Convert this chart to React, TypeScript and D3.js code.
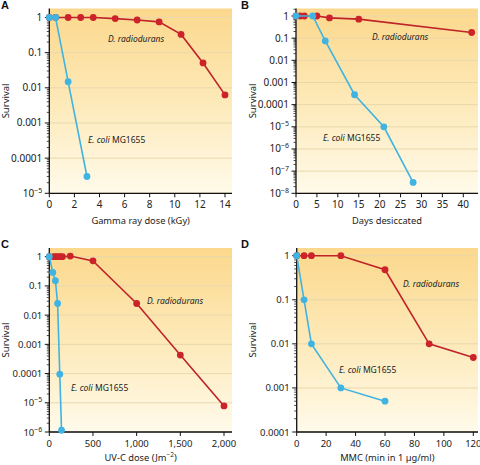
import React from "react";
import * as d3 from "d3";

// ---------- data ----------
const gammaDose_Drad = [0, 0.5, 1.5, 2.5, 3.5, 5.25, 7, 8.75, 10.5, 12.25, 14];
const gammaSurv_Drad = [1, 1, 1, 1, 1, 0.93, 0.85, 0.75, 0.33, 0.051, 0.0063];
const gammaDose_Ecoli = [0, 0.5, 1.5, 3];
const gammaSurv_Ecoli = [1, 1, 0.015, 3e-5];

const days_Drad = [0, 1, 2, 5, 8, 15, 42];
const daysSurv_Drad = [1, 1, 1, 1, 0.82, 0.72, 0.18];
const days_Ecoli = [0, 4, 7, 14, 21, 28];
const daysSurv_Ecoli = [1, 1, 0.075, 2.8e-4, 1e-5, 3.1e-8];

const uv_Drad = [0, 50, 75, 100, 125, 150, 240, 500, 1000, 1500, 2000];
const uvSurv_Drad = [1, 1, 1, 1, 1, 1, 1.05, 0.72, 0.025, 4.3e-4, 7.8e-6];
const uv_Ecoli = [0, 40, 70, 95, 120, 140];
const uvSurv_Ecoli = [1, 0.29, 0.15, 0.025, 9.5e-5, 1.15e-6];

const mmc_Drad = [0, 5, 10, 30, 60, 90, 120];
const mmcSurv_Drad = [1, 1, 1, 1, 0.48, 0.01, 0.0049];
const mmc_Ecoli = [0, 5, 10, 30, 60];
const mmcSurv_Ecoli = [1, 0.1, 0.01, 0.001, 5e-4];

const gammaTicks = [0, 2, 4, 6, 8, 10, 12, 14];
const daysTicks = [0, 5, 10, 15, 20, 25, 30, 35, 40];
const uvTicks = [0, 500, 1000, 1500, 2000];
const mmcTicks = [0, 20, 40, 60, 80, 100, 120];

const panelLetters = ["A", "B", "C", "D"];
const xTitles = ["Gamma ray dose (kGy)", "Days desiccated", "UV-C dose (Jm", "MMC (min in 1 µg/ml)"];
const yTitle = "Survival";
const dradLabel = "D. radiodurans";
const ecoliItalic = "E. coli";
const ecoliStrain = " MG1655";

// label anchors in data coordinates [x, y]
const labelPosDrad = [[4.68, 0.2], [18.2, 0.083], [1118, 0.024], [72.2, 0.2]];
const labelPosEcoli = [[3.08, 2.7e-4], [6.45, 2.3e-6], [248, 2.5e-5], [28.7, 0.0022]];

const RED = "#bf2329";
const REDDOT = "#cc2229";
const BLUE = "#3fb4e2";
const GRID = "#e9d7ad";
const FONT = "'Noto Sans', 'Open Sans', sans-serif";

type PanelDef = {
  letter: string;
  lx: number; ly: number;
  x0: number; x1: number; right: number; top: number; y1: number; yb: number;
  xmax: number; ymin: number;
  xticks: number[];
  xfmt: (v: number) => string;
  xTitle: React.ReactNode;
  titleY: number;
  tickFs: number;
  tickDy: number;
  redX: number[]; redY: number[]; blueX: number[]; blueY: number[];
  dradPos: number[]; ecoliPos: number[];
  gid: string;
};

function yLabel(exp: number): React.ReactNode {
  if (exp >= -4) {
    const s = exp === 0 ? "1" : "0." + "0".repeat(-exp - 1) + "1";
    return s;
  }
  return (
    <>
      10<tspan dy={-4} fontSize={7}>{"\u2212" + (-exp)}</tspan>
    </>
  );
}

function Panel(p: PanelDef) {
  const x = d3.scaleLinear().domain([0, p.xmax]).range([p.x0, p.x1]);
  const y = d3.scaleLog().domain([1, p.ymin]).range([p.y1, p.yb]);
  const line = d3
    .line<[number, number]>()
    .x((d) => x(d[0]))
    .y((d) => y(d[1]));
  const red: [number, number][] = p.redX.map((v, i) => [v, p.redY[i]]);
  const blue: [number, number][] = p.blueX.map((v, i) => [v, p.blueY[i]]);
  const eMin = Math.round(Math.log10(p.ymin));
  const decades = d3.range(0, eMin - 1, -1);
  const minors: number[] = [];
  for (let e = -1; e >= eMin; e--) {
    for (let k = 2; k <= 9; k++) minors.push(k * Math.pow(10, e));
  }
  for (let k = 2; k <= 9; k++) {
    if (y(k) >= p.top) minors.push(k);
  }
  return (
    <g>
      <defs>
        <linearGradient id={p.gid} x1="0" y1="0" x2="0" y2="1">
          <stop offset="0" stopColor="#fbd88c" />
          <stop offset="0.55" stopColor="#fdebbd" />
          <stop offset="1" stopColor="#fffaea" />
        </linearGradient>
      </defs>
      <rect x={p.x0} y={p.top} width={p.right - p.x0} height={p.yb - p.top} fill={`url(#${p.gid})`} />
      {decades.map((e) => (
        <line key={"g" + e} x1={p.x0} x2={p.right} y1={y(Math.pow(10, e))} y2={y(Math.pow(10, e))} stroke={GRID} strokeWidth={1} />
      ))}
      <line x1={p.x0} x2={p.x0} y1={p.top} y2={p.yb} stroke="#111" strokeWidth={1.3} />
      <line x1={p.x0} x2={p.right} y1={p.yb} y2={p.yb} stroke="#111" strokeWidth={1.3} />
      {minors.map((v, i) => (
        <line key={"m" + i} x1={p.x0 - 2.5} x2={p.x0} y1={y(v)} y2={y(v)} stroke="#222" strokeWidth={0.8} />
      ))}
      {decades.map((e) => (
        <g key={"t" + e}>
          <line x1={p.x0 - 4.5} x2={p.x0} y1={y(Math.pow(10, e))} y2={y(Math.pow(10, e))} stroke="#111" strokeWidth={1} />
          <text x={p.x0 - 7} y={y(Math.pow(10, e)) + 3.5} textAnchor="end" fontSize={p.tickFs} fontFamily={FONT} fill="#222">
            {yLabel(e)}
          </text>
        </g>
      ))}
      {p.xticks.map((v) => (
        <g key={"x" + v}>
          <line x1={x(v)} x2={x(v)} y1={p.yb} y2={p.yb + 4} stroke="#111" strokeWidth={1} />
          <text x={x(v)} y={p.yb + p.tickDy} textAnchor="middle" fontSize={p.tickFs} fontFamily={FONT} fill="#222">
            {p.xfmt(v)}
          </text>
        </g>
      ))}
      <text x={(p.x0 + p.right) / 2} y={p.titleY} textAnchor="middle" fontSize={9.3} fontFamily={FONT} fill="#222">
        {p.xTitle}
      </text>
      <text
        transform={`translate(${p.x0 - 40.5},${(p.top + p.yb) / 2}) rotate(-90)`}
        textAnchor="middle"
        fontSize={9.5}
        fontFamily={FONT}
        fill="#222"
      >
        {yTitle}
      </text>
      <text x={p.lx} y={p.ly} fontSize={11} fontWeight="bold" fontFamily="'Liberation Sans', Arial, sans-serif" fill="#111">
        {p.letter}
      </text>
      <path d={line(red) || ""} fill="none" stroke={RED} strokeWidth={1.6} />
      {red.map((d, i) => (
        <circle key={"r" + i} cx={x(d[0])} cy={y(d[1])} r={3.4} fill={REDDOT} />
      ))}
      <path d={line(blue) || ""} fill="none" stroke={BLUE} strokeWidth={1.6} />
      {blue.map((d, i) => (
        <circle key={"b" + i} cx={x(d[0])} cy={y(d[1])} r={3.4} fill={BLUE} />
      ))}
      <text x={x(p.dradPos[0])} y={y(p.dradPos[1])} fontSize={8.5} fontStyle="italic" fontFamily={FONT} fill="#222">
        {dradLabel}
      </text>
      <text x={x(p.ecoliPos[0])} y={y(p.ecoliPos[1])} fontSize={8.5} fontFamily={FONT} fill="#222">
        <tspan fontStyle="italic">{ecoliItalic}</tspan>
        {ecoliStrain}
      </text>
    </g>
  );
}

const fmtComma = d3.format(",");

export default function App() {
  const panels: PanelDef[] = [
    {
      letter: panelLetters[0], lx: 1, ly: 8.5,
      x0: 49.3, x1: 225, right: 232, top: 8.5, y1: 17.5, yb: 193.3,
      xmax: 14, ymin: 1e-5, xticks: gammaTicks, xfmt: (v) => String(v),
      xTitle: xTitles[0], titleY: 224, tickFs: 10, tickDy: 14.5,
      redX: gammaDose_Drad, redY: gammaSurv_Drad, blueX: gammaDose_Ecoli, blueY: gammaSurv_Ecoli,
      dradPos: labelPosDrad[0], ecoliPos: labelPosEcoli[0], gid: "gA",
    },
    {
      letter: panelLetters[1], lx: 241, ly: 8.5,
      x0: 296, x1: 463.3, right: 478, top: 8.5, y1: 16, yb: 193.3,
      xmax: 40, ymin: 1e-8, xticks: daysTicks, xfmt: (v) => String(v),
      xTitle: xTitles[1], titleY: 224, tickFs: 10, tickDy: 14.5,
      redX: days_Drad, redY: daysSurv_Drad, blueX: days_Ecoli, blueY: daysSurv_Ecoli,
      dradPos: labelPosDrad[1], ecoliPos: labelPosEcoli[1], gid: "gB",
    },
    {
      letter: panelLetters[2], lx: 1, ly: 248,
      x0: 49.3, x1: 224, right: 232, top: 248, y1: 256.7, yb: 432,
      xmax: 2000, ymin: 1e-6, xticks: uvTicks, xfmt: (v) => fmtComma(v),
      xTitle: (
        <>
          {xTitles[2]}
          <tspan dy={-3.5} fontSize={6.5}>{"\u22122"}</tspan>
          <tspan dy={3.5}>)</tspan>
        </>
      ),
      titleY: 460.5, tickFs: 9.5, tickDy: 14.8,
      redX: uv_Drad, redY: uvSurv_Drad, blueX: uv_Ecoli, blueY: uvSurv_Ecoli,
      dradPos: labelPosDrad[2], ecoliPos: labelPosEcoli[2], gid: "gC",
    },
    {
      letter: panelLetters[3], lx: 241, ly: 248,
      x0: 296.7, x1: 473.3, right: 478, top: 248, y1: 255.7, yb: 432,
      xmax: 120, ymin: 1e-4, xticks: mmcTicks, xfmt: (v) => String(v),
      xTitle: xTitles[3], titleY: 460.5, tickFs: 9.5, tickDy: 14.8,
      redX: mmc_Drad, redY: mmcSurv_Drad, blueX: mmc_Ecoli, blueY: mmcSurv_Ecoli,
      dradPos: labelPosDrad[3], ecoliPos: labelPosEcoli[3], gid: "gD",
    },
  ];
  return (
    <svg
      width={480}
      height={465}
      style={{ position: "absolute", left: 0, top: 0, background: "#fff" }}
    >
      {panels.map((p) => (
        <Panel key={p.letter} {...p} />
      ))}
    </svg>
  );
}
